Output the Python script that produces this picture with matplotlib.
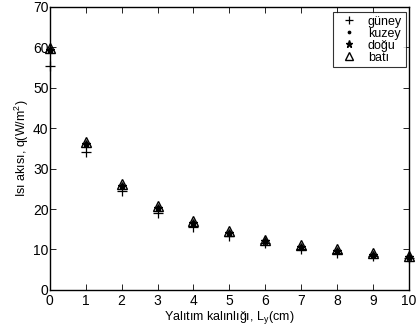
import matplotlib
matplotlib.use('Agg')
import matplotlib.pyplot as plt
import numpy as np

plt.rcParams['font.family'] = ['Liberation Sans', 'DejaVu Sans']

# insulation thickness (cm) and heat flux for each facade
thickness = [0, 1, 2, 3, 4, 5, 6, 7, 8, 9, 10]
guney = [55.5, 34.0, 24.5, 19.0, 15.5, 13.3, 11.5, 10.2, 9.2, 8.3, 7.8]
kuzey = [59.5, 36.3, 26.0, 20.5, 16.8, 14.3, 12.2, 10.8, 9.8, 8.8, 8.3]
dogu = [59.3, 36.0, 25.8, 20.3, 16.6, 14.1, 12.0, 10.7, 9.7, 8.7, 8.2]
bati = [59.8, 36.6, 26.2, 20.7, 17.0, 14.5, 12.4, 11.0, 10.0, 9.0, 8.4]

fig = plt.figure(figsize=(4.19, 3.32), dpi=100)
ax = fig.add_axes([0.119, 0.127, 0.857, 0.852])

ax.plot(thickness, guney, 'k+', markersize=7, markeredgewidth=0.9, label='güney', clip_on=False)
ax.plot(thickness, kuzey, 'k.', markersize=4, label='kuzey', clip_on=False)
ax.plot(thickness, dogu, 'k*', markersize=6, label='doğu', clip_on=False)
ax.plot(thickness, bati, 'k^', markersize=7, markerfacecolor='none', markeredgewidth=1.0,
        label='batı', clip_on=False)

ax.set_xlim(0, 10)
ax.set_ylim(0, 70)
ax.set_xticks(np.arange(0, 11, 1))
ax.set_yticks(np.arange(0, 71, 10))
ax.tick_params(direction='in', top=True, right=True, length=4, width=0.6,
               labelsize=10)
ax.tick_params(axis='x', pad=3)
ax.tick_params(axis='y', pad=1)
for s in ax.spines.values():
    s.set_linewidth(1.0)

ax.set_xlabel('Yalıtım kalınlığı, L$_\\mathregular{y}$(cm)', fontsize=9, labelpad=1)
ax.set_ylabel('Isı akısı, q(W/m$^\\mathregular{2}$)', fontsize=9, labelpad=1)

leg = ax.legend(loc='upper right', fontsize=9, frameon=True, fancybox=False,
                edgecolor='black', borderpad=0.3, handletextpad=0.5,
                labelspacing=0.0, handlelength=2.0, borderaxespad=0.4,
                markerscale=0.85, bbox_to_anchor=(1.005, 1.0))
leg.get_frame().set_linewidth(0.8)

fig.savefig('out.png', dpi=100)
